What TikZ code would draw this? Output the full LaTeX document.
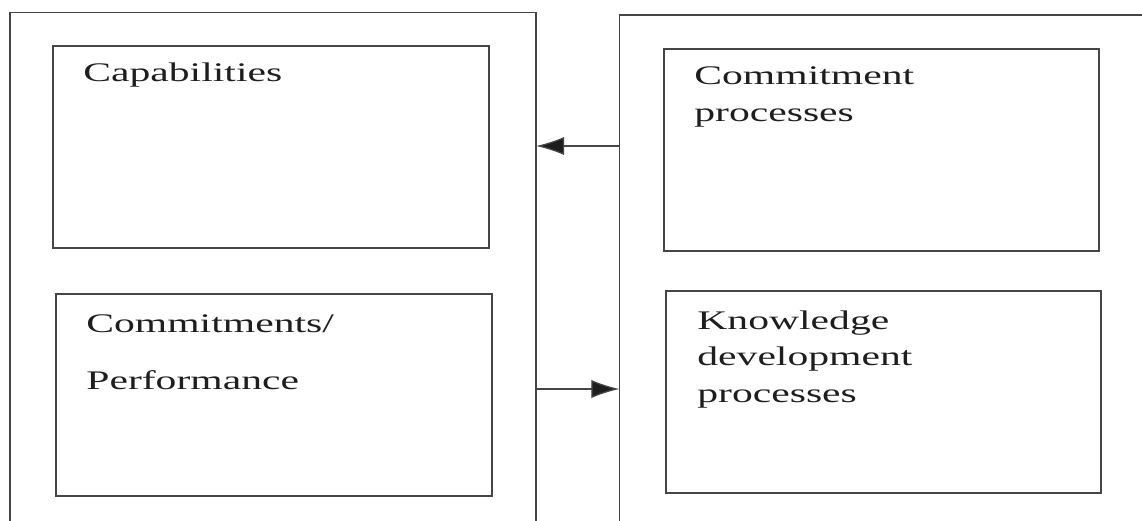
\documentclass[tikz,border=0pt]{standalone}
\usepackage{fontspec}
\setmainfont{Liberation Serif}
\definecolor{frame}{RGB}{70, 70, 70}
\definecolor{ink}{RGB}{30, 30, 30}
\usetikzlibrary{arrows.meta,positioning}

\begin{document}
\begin{tikzpicture}[x=0.025cm, y=-0.025cm,
    frameline/.style={draw=frame, line width=0.9pt},
    outer/.style={frameline, inner sep=0pt, outer sep=0pt, minimum height=13.7cm},
    box/.style={frameline, inner sep=0pt, outer sep=0pt, minimum width=10.9cm, minimum height=5.05cm},
    lbl/.style={anchor=base west, align=left, text=ink, xscale=1.55, inner sep=0pt,
        font=\fontsize{19.1pt}{26.3pt}\selectfont},
    arr/.style={frameline, -{Latex[length=20pt, width=13pt, fill=ink]}}]
    \path[use as bounding box, clip] (0,0) rectangle (1142,520);

    \node[outer, minimum width=13.15cm] (lout) at (273,286.7) {};
    \node[outer, minimum width=13.76cm] (rout) at (894.7,289) {};

    \node[box] (cap) at (271,147) {};
    \node[box] (perf) at (274,395) {};
    \node[box, minimum width=10.875cm] (comm) at (881.5,150) {};
    \node[box, minimum width=10.875cm] (know) at (883.5,392) {};

    \node[lbl] at ([shift={(30,36)}]cap.north west) {Capabilities};
    \node[lbl] at ([shift={(30,96)}]perf.north west) {Commitments/\\[14.8pt]Performance};
    \node[lbl] at ([shift={(30,73)}]comm.north west) {Commitment\\processes};
    \node[lbl] at ([shift={(31,112)}]know.north west) {Knowledge\\development\\processes};

    \draw[arr] (rout.west |- 0,146) -- (lout.east |- 0,146);
    \draw[arr] (lout.east |- 0,389) -- (rout.west |- 0,389);
\end{tikzpicture}
\end{document}
